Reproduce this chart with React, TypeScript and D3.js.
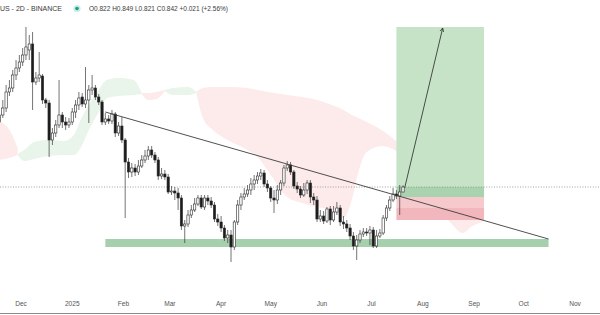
import React from 'react';
import * as d3 from 'd3';

const W = 600;
const H = 315;

const startDate = '2024-11-18';
const stepDays = 2;

const opens = [1.102,1.130,1.158,1.222,1.238,1.290,1.318,1.342,1.370,1.390,
1.414,1.262,1.278,1.286,1.190,1.178,1.030,1.058,1.090,1.130,
1.102,1.090,1.102,1.142,1.170,1.202,1.174,1.190,1.230,1.238,
1.202,1.182,1.102,1.114,1.106,1.134,1.058,1.086,1.030,0.942,
0.902,0.918,0.902,0.926,0.950,0.966,0.990,0.970,0.950,0.886,
0.894,0.882,0.822,0.826,0.818,0.798,0.686,0.694,0.730,0.750,
0.774,0.798,0.762,0.798,0.786,0.770,0.714,0.702,0.678,0.638,
0.650,0.602,0.702,0.770,0.802,0.814,0.830,0.854,0.870,0.886,
0.898,0.854,0.838,0.798,0.790,0.830,0.858,0.918,0.930,0.902,
0.846,0.834,0.810,0.830,0.858,0.802,0.790,0.714,0.726,0.706,
0.754,0.710,0.742,0.758,0.702,0.694,0.678,0.646,0.606,0.630,
0.654,0.662,0.658,0.670,0.606,0.646,0.658,0.718,0.758,0.790,
0.814,0.806,0.822];

const highs = [1.170,1.190,1.250,1.270,1.310,1.350,1.370,1.398,1.482,1.450,
1.462,1.302,1.382,1.294,1.198,1.190,1.078,1.110,1.270,1.142,
1.122,1.118,1.158,1.190,1.222,1.218,1.322,1.250,1.290,1.250,
1.214,1.190,1.138,1.130,1.150,1.142,1.102,1.122,1.038,0.958,
0.938,0.934,0.950,0.970,0.990,1.006,1.006,0.982,0.962,0.918,
0.910,0.894,0.846,0.842,0.838,0.810,0.710,0.750,0.770,0.798,
0.810,0.810,0.810,0.810,0.802,0.782,0.734,0.726,0.690,0.670,
0.670,0.710,0.790,0.818,0.838,0.850,0.878,0.890,0.902,0.914,
0.910,0.870,0.846,0.830,0.850,0.870,0.930,0.946,0.942,0.910,
0.862,0.846,0.858,0.870,0.870,0.818,0.806,0.750,0.746,0.762,
0.766,0.766,0.782,0.770,0.726,0.710,0.694,0.662,0.650,0.670,
0.678,0.678,0.686,0.682,0.670,0.674,0.730,0.770,0.806,0.838,
0.830,0.850,0.849];

const lows = [1.082,1.118,1.142,1.206,1.222,1.270,1.302,1.326,1.350,1.350,
1.150,1.250,1.262,1.174,1.158,0.962,1.010,1.042,1.078,1.078,
1.070,1.078,1.090,1.118,1.150,1.162,1.158,1.098,1.210,1.190,
1.170,1.090,1.090,1.094,1.094,1.042,1.046,1.018,0.718,0.878,
0.882,0.886,0.890,0.918,0.938,0.950,0.958,0.938,0.870,0.874,
0.870,0.814,0.810,0.790,0.750,0.670,0.618,0.682,0.718,0.742,
0.766,0.754,0.750,0.770,0.758,0.702,0.686,0.662,0.626,0.618,
0.542,0.590,0.690,0.750,0.790,0.802,0.810,0.830,0.854,0.870,
0.842,0.822,0.782,0.738,0.774,0.810,0.846,0.906,0.890,0.834,
0.818,0.798,0.802,0.814,0.778,0.770,0.702,0.702,0.694,0.698,
0.690,0.702,0.730,0.686,0.674,0.662,0.630,0.590,0.550,0.618,
0.642,0.646,0.610,0.598,0.598,0.638,0.650,0.706,0.746,0.782,
0.794,0.730,0.821];

const closes = [1.130,1.158,1.222,1.238,1.290,1.318,1.342,1.370,1.402,1.414,
1.262,1.278,1.290,1.190,1.178,1.030,1.058,1.090,1.130,1.102,
1.090,1.102,1.142,1.170,1.198,1.174,1.190,1.230,1.238,1.202,
1.182,1.102,1.114,1.106,1.134,1.058,1.086,1.030,0.942,0.902,
0.918,0.902,0.926,0.950,0.966,0.990,0.970,0.950,0.886,0.894,
0.882,0.822,0.826,0.818,0.798,0.686,0.694,0.730,0.750,0.774,
0.798,0.762,0.798,0.786,0.770,0.714,0.702,0.678,0.638,0.650,
0.602,0.702,0.770,0.802,0.814,0.830,0.854,0.870,0.886,0.898,
0.854,0.838,0.798,0.790,0.830,0.858,0.918,0.930,0.902,0.846,
0.834,0.810,0.830,0.858,0.802,0.790,0.714,0.726,0.706,0.754,
0.710,0.742,0.758,0.702,0.694,0.678,0.646,0.606,0.630,0.654,
0.662,0.658,0.670,0.606,0.646,0.658,0.718,0.758,0.790,0.814,
0.806,0.822,0.842];

// Ichimoku cloud segments: [date, upper, lower]
const cloudPinkLeft: [string, number, number][] = [
  ['2024-11-16', 1.110, 0.950],
  ['2024-11-24', 1.070, 0.958],
  ['2024-11-29', 0.998, 0.970],
];
const cloudGreen1: [string, number, number][] = [
  ['2024-11-29', 0.974, 0.970],
  ['2024-12-03', 0.990, 0.946],
  ['2024-12-09', 1.022, 0.954],
  ['2024-12-18', 1.030, 0.966],
  ['2024-12-27', 1.026, 0.970],
  ['2025-01-02', 1.050, 0.970],
  ['2025-01-06', 1.110, 0.998],
  ['2025-01-11', 1.170, 1.070],
  ['2025-01-17', 1.230, 1.142],
  ['2025-01-22', 1.270, 1.198],
  ['2025-01-29', 1.278, 1.206],
  ['2025-02-07', 1.270, 1.210],
  ['2025-02-12', 1.218, 1.214],
];
const cloudRed1: [string, number, number][] = [
  ['2025-02-12', 1.218, 1.214],
  ['2025-02-16', 1.218, 1.190],
  ['2025-02-21', 1.222, 1.194],
  ['2025-02-26', 1.230, 1.226],
];
const cloudGreen2: [string, number, number][] = [
  ['2025-02-26', 1.230, 1.226],
  ['2025-03-03', 1.238, 1.210],
  ['2025-03-12', 1.242, 1.210],
  ['2025-03-17', 1.222, 1.218],
];
const cloudRed2: [string, number, number][] = [
  ['2025-03-17', 1.222, 1.218],
  ['2025-03-21', 1.238, 1.118],
  ['2025-03-27', 1.242, 1.070],
  ['2025-04-05', 1.242, 1.030],
  ['2025-04-17', 1.238, 0.990],
  ['2025-04-23', 1.230, 0.962],
  ['2025-04-29', 1.222, 0.910],
  ['2025-05-11', 1.210, 0.802],
  ['2025-05-20', 1.202, 0.778],
  ['2025-05-29', 1.190, 0.762],
  ['2025-06-07', 1.170, 0.750],
  ['2025-06-14', 1.150, 0.718],
  ['2025-06-19', 1.130, 0.790],
  ['2025-06-23', 1.118, 0.902],
  ['2025-06-28', 1.102, 0.982],
  ['2025-07-07', 1.070, 1.006],
  ['2025-07-15', 1.030, 0.990],
  ['2025-07-29', 0.950, 0.890],
  ['2025-08-19', 0.810, 0.690],
  ['2025-08-25', 0.770, 0.658],
  ['2025-08-31', 0.730, 0.686],
  ['2025-09-06', 0.710, 0.702],
];

const trendStart: [string, number] = ['2025-01-21', 1.142];
const trendEnd: [string, number] = ['2025-10-16', 0.634];
const supportBand = { from: '2025-01-21', to: '2025-10-16', top: 0.634, bottom: 0.602 };

const positionFrom = '2025-07-16';
const positionTo = '2025-09-07';
const targetPrice = 1.482;
const entryUpper = 0.842;
const entryPrice = 0.802;
const stopMid = 0.758;
const stopPrice = 0.710;

const arrowFrom: [string, number] = ['2025-07-21', 0.838];
const arrowTo: [string, number] = ['2025-08-13', 1.478];

const lastPrice = 0.842;

const monthTicks = ['2024-12-01','2025-01-01','2025-02-01','2025-03-01','2025-04-01','2025-05-01','2025-06-01','2025-07-01','2025-08-01','2025-09-01','2025-10-01','2025-11-01'];
const tickLabels = ['Dec','2025','Feb','Mar','Apr','May','Jun','Jul','Aug','Sep','Oct','Nov'];

const titleText = 'US - 2D - BINANCE';
const ohlcText = 'O0.822 H0.849 L0.821 C0.842 +0.021 (+2.56%)';

const parse = (s: string) => new Date(s + 'T00:00:00Z');

export default function App() {
  const x = d3.scaleUtc().domain([parse('2024-12-01'), parse('2025-11-01')]).range([21, 575]);
  const y = d3.scaleLinear().domain([1.59, 0.33]).range([0, H]);
  const start = parse(startDate);
  const candles = closes.map((c, i) => ({
    date: d3.utcDay.offset(start, i * stepDays),
    o: opens[i], h: highs[i], l: lows[i], c,
  }));
  const bw = 2.3;

  const area = d3.area<[string, number, number]>()
    .x(d => x(parse(d[0])))
    .y0(d => y(d[2]))
    .y1(d => y(d[1]))
    .curve(d3.curveMonotoneX);

  const pink = '#fdeaea';
  const green = '#e9f4ea';

  const px0 = x(parse(positionFrom));
  const px1 = x(parse(positionTo));

  const ax0 = x(parse(arrowFrom[0]));
  const ay0 = y(arrowFrom[1]);
  const ax1 = x(parse(arrowTo[0]));
  const ay1 = y(arrowTo[1]);
  const ang = Math.atan2(ay1 - ay0, ax1 - ax0);
  const hl = 4;
  const head = `M${ax1 + hl * Math.cos(ang + Math.PI - 0.45)},${ay1 + hl * Math.sin(ang + Math.PI - 0.45)} L${ax1},${ay1} L${ax1 + hl * Math.cos(ang + Math.PI + 0.45)},${ay1 + hl * Math.sin(ang + Math.PI + 0.45)}`;

  return (
    <div style={{ position: 'absolute', left: 0, top: 0, width: W, height: H, background: '#fff' }}>
      <svg width={W} height={H} style={{ display: 'block' }}>
        <rect x={0} y={0} width={W} height={H} fill="#ffffff" />
        <path d={area(cloudPinkLeft) || ''} fill={pink} />
        <path d={area(cloudGreen1) || ''} fill={green} />
        <path d={area(cloudRed1) || ''} fill={pink} />
        <path d={area(cloudGreen2) || ''} fill={green} />
        <path d={area(cloudRed2) || ''} fill={pink} />

        <rect x={x(parse(supportBand.from))} width={x(parse(supportBand.to)) - x(parse(supportBand.from))}
          y={y(supportBand.top)} height={y(supportBand.bottom) - y(supportBand.top)} fill="#a6cfad" />

        <rect x={px0} width={px1 - px0} y={y(targetPrice)} height={y(entryUpper) - y(targetPrice)} fill="#c6e3c8" />
        <rect x={px0} width={px1 - px0} y={y(entryUpper)} height={y(entryPrice) - y(entryUpper)} fill="#a9d2ae" />
        <rect x={px0} width={px1 - px0} y={y(entryPrice)} height={y(stopMid) - y(entryPrice)} fill="#f6cacd" />
        <rect x={px0} width={px1 - px0} y={y(stopMid)} height={y(stopPrice) - y(stopMid)} fill="#f1b7bc" />

        <line x1={0} x2={W} y1={y(lastPrice)} y2={y(lastPrice)} stroke="#8a8a8a" strokeWidth={0.8} strokeDasharray="1 1.6" />

        {candles.map((d, i) => {
          const cx = x(d.date);
          const up = d.c >= d.o;
          const top = y(Math.max(d.o, d.c));
          const bot = y(Math.min(d.o, d.c));
          return (
            <g key={i}>
              <line x1={cx} x2={cx} y1={y(d.h)} y2={y(d.l)} stroke="#3a3a3a" strokeWidth={0.7} />
              <rect x={cx - bw / 2} width={bw} y={top} height={Math.max(0.8, bot - top)}
                fill={up ? '#ffffff' : '#1c1c1c'} stroke="#2a2a2a" strokeWidth={0.6} />
            </g>
          );
        })}

        <line x1={x(parse(trendStart[0]))} y1={y(trendStart[1])} x2={x(parse(trendEnd[0]))} y2={y(trendEnd[1])}
          stroke="#3c3c3c" strokeWidth={0.9} />

        <line x1={ax0} y1={ay0} x2={ax1} y2={ay1} stroke="#3a3a3a" strokeWidth={0.9} />
        <path d={head} fill="none" stroke="#3a3a3a" strokeWidth={0.9} />

        <text x={0} y={11} fontFamily="'Liberation Sans', Arial, sans-serif" fontSize={7.2} fill="#3a3a3a" textLength={62} lengthAdjust="spacingAndGlyphs">{titleText}</text>
        <circle cx={77} cy={8.5} r={3.6} fill="#c9ece7" />
        <circle cx={77} cy={8.5} r={1.8} fill="#1e9e8c" />
        <text x={89} y={11} fontFamily="'Liberation Sans', Arial, sans-serif" fontSize={7} fill="#3a3a3a" textLength={139} lengthAdjust="spacingAndGlyphs">{ohlcText}</text>

        {monthTicks.map((t, i) => (
          <text key={t} x={x(parse(t))} y={306} textAnchor="middle" fontFamily="'Liberation Sans', Arial, sans-serif" fontSize={6.6} fill="#555">{tickLabels[i]}</text>
        ))}
        <line x1={0} x2={W} y1={313.5} y2={313.5} stroke="#8c8c8c" strokeWidth={1.2} />
      </svg>
    </div>
  );
}
